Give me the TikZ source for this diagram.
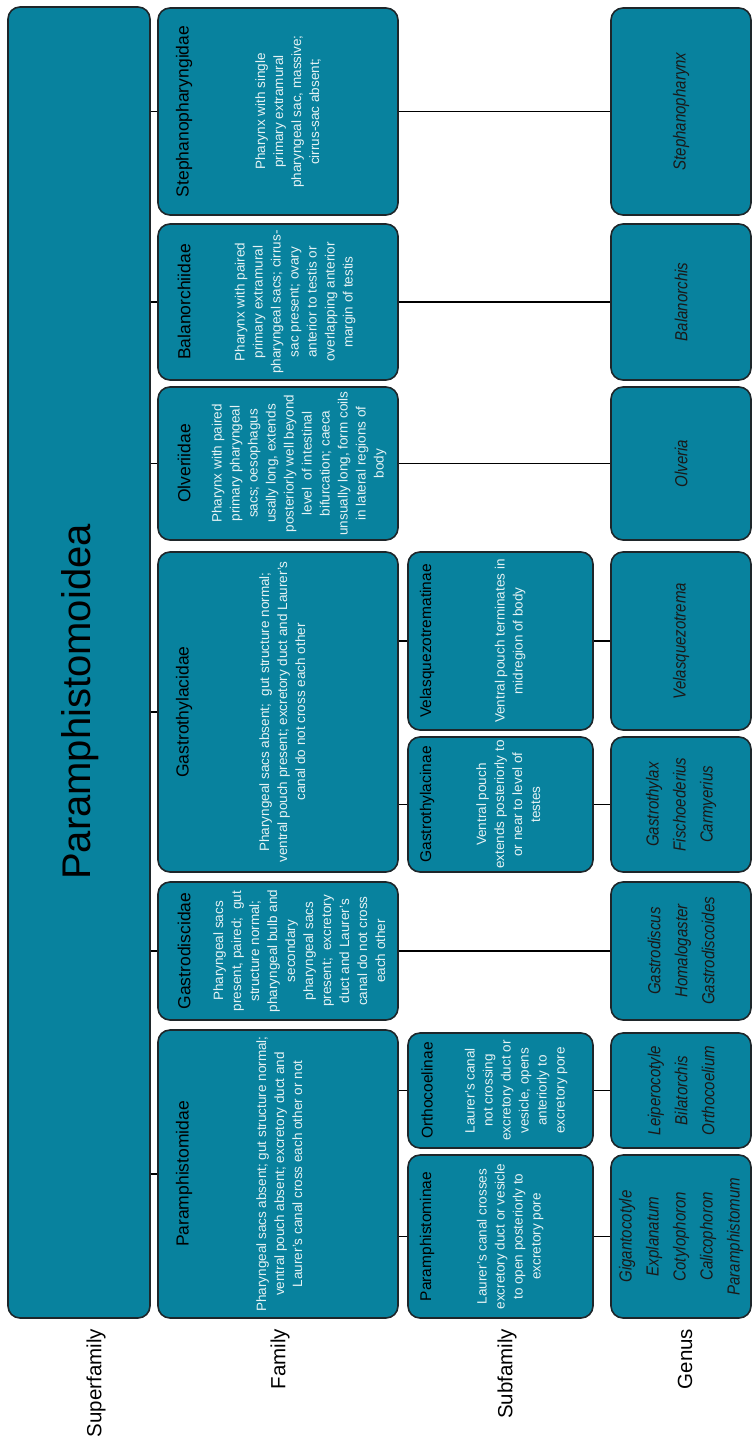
\documentclass[tikz,border=0pt]{standalone}
\usepackage{fontspec}
\setmainfont{Liberation Sans}
\newfontfamily\narrowsans[FakeStretch=0.86]{Liberation Sans}
\usetikzlibrary{positioning}
\definecolor{pteal}{RGB}{8,130,158}
\definecolor{pedge}{RGB}{30,38,42}

\begin{document}
\begin{tikzpicture}[x=1pt, y=-1pt, line width=1.8pt,
  taxon/.style={draw=pedge, fill=pteal, rounded corners=12pt, line width=1.6pt, inner sep=0pt},
  famcol/.style={taxon, minimum width=240pt},
  subcol/.style={taxon, minimum width=185pt},
  gencol/.style={taxon, minimum width=140pt},
  tname/.style={rotate=90, font=\fontsize{17.5}{21}\selectfont, text=black},
  sname/.style={rotate=90, font=\fontsize{15.5}{19}\selectfont, text=black},
  descr/.style={rotate=90, align=center, font=\fontsize{13.5}{18}\selectfont, text=white!90!pteal},
  genera/.style={rotate=90, align=center, font=\narrowsans\itshape\fontsize{17.5}{27}\selectfont, text=black!90},
  level/.style={rotate=90, anchor=east, inner sep=0pt, font=\fontsize{20.5}{24}\selectfont}]
\useasboundingbox (0,0) rectangle (753,1440);

\node[taxon, minimum width=142pt, minimum height=1311pt] (sfam) at (79,662.5) {};
\node[rotate=90, font=\fontsize{40}{46}\selectfont] (sfamN) at (80,702) {Paramphistomoidea};

\node[famcol, minimum height=207pt] (steph) at (278,111.5) {};
\node[famcol, minimum height=156pt] (balan) at (278,302) {};
\node[famcol, minimum height=153pt] (olver) at (278,463.5) {};
\node[famcol, minimum height=320pt] (gthyl) at (278,712) {};
\node[famcol, minimum height=138pt] (gdisc) at (278,951) {};
\node[famcol, minimum height=288pt] (param) at (278,1174) {};

\node[subcol, minimum height=178pt] (velas) at (500.5,641) {};
\node[subcol, minimum height=135pt] (gthysub) at (500.5,804.5) {};
\node[subcol, minimum height=115pt] (ortho) at (500.5,1090.5) {};
\node[subcol, minimum height=163pt] (paramsub) at (500.5,1236.5) {};

\node[gencol, minimum height=207pt] (stephG) at (681,111.5) {};
\node[gencol, minimum height=156pt] (balanG) at (681,302) {};
\node[gencol, minimum height=153pt] (olverG) at (681,463.5) {};
\node[gencol, minimum height=178pt] (velasG) at (681,641) {};
\node[gencol, minimum height=135pt] (gthyG) at (681,804.5) {};
\node[gencol, minimum height=138pt] (gdiscG) at (681,951) {};
\node[gencol, minimum height=115pt] (orthoG) at (681,1090.5) {};
\node[gencol, minimum height=163pt] (paramG) at (681,1236.5) {};

\draw (sfam.east |- steph.west) -- (steph.west);
\draw (sfam.east |- balan.west) -- (balan.west);
\draw (sfam.east |- olver.west) -- (olver.west);
\draw (sfam.east |- gthyl.west) -- (gthyl.west);
\draw (sfam.east |- gdisc.west) -- (gdisc.west);
\draw (sfam.east |- param.west) -- (param.west);

\draw (steph) -- (stephG);
\draw (balan) -- (balanG);
\draw (olver) -- (olverG);
\draw (gdisc) -- (gdiscG);
\draw (velas.west -| gthyl.east) -- (velas.west);
\draw (gthysub.west -| gthyl.east) -- (gthysub.west);
\draw (ortho.west -| param.east) -- (ortho.west);
\draw (paramsub.west -| param.east) -- (paramsub.west);
\draw (velas) -- (velasG);
\draw (gthysub) -- (gthyG);
\draw (ortho) -- (orthoG);
\draw (paramsub) -- (paramG);

\node[tname] (stephN) at ([xshift=27pt]steph.west) {Stephanopharyngidae};
\node[descr] (stephD) at ([xshift=131pt]steph.west) {Pharynx with single\\ primary extramural\\ pharyngeal sac, massive;\\ cirrus-sac absent;};
\node[tname] (balanN) at ([xshift=27pt]balan.west) {Balanorchiidae};
\node[descr] (balanD) at ([xshift=138pt]balan.west) {Pharynx with paired\\ primary extramural\\ pharyngeal sacs; cirrus-\\ sac present; ovary\\ anterior to testis or\\ overlapping anterior\\ margin of testis};
\node[tname] (olverN) at ([xshift=27pt]olver.west) {Olveriidae};
\node[descr] (olverD) at ([xshift=142pt]olver.west) {Pharynx with paired\\ primary pharyngeal\\ sacs; oesophagus\\ usally long, extends\\ posteriorly well beyond\\ level~ of intestinal\\ bifurcation; caeca\\ unsually long, form coils\\ in lateral regions of\\ body};
\node[tname] (gthylN) at ([xshift=27pt]gthyl.west) {Gastrothylacidae};
\node[descr] (gthylD) at ([xshift=125pt]gthyl.west) {Pharyngeal sacs absent;~ gut structure normal;\\ ventral pouch present; excretory duct and Laurer's\\ canal do not cross each other};
\node[tname] (gdiscN) at ([xshift=27pt]gdisc.west) {Gastrodiscidae};
\node[descr] (gdiscD) at ([xshift=142pt]gdisc.west) {Pharyngeal sacs\\ present, paired;~ gut\\ structure normal;\\ pharyngeal bulb and\\ secondary\\ pharyngeal sacs\\ present;~ excretory\\ duct and Laurer's\\ canal do not cross\\ each other};
\node[tname] (paramN) at ([xshift=27pt]param.west) {Paramphistomidae};
\node[descr] (paramD) at ([xshift=122pt]param.west) {Pharyngeal sacs absent; gut structure normal;\\ ventral pouch absent; excretory duct and\\ Laurer's canal cross each other or not};

\node[sname] (velasN) at ([xshift=20pt]velas.west) {Velasquezotrematinae};
\node[descr] (velasD) at ([xshift=103pt]velas.west) {Ventral pouch terminates in\\ midregion of body};
\node[sname] (gthysubN) at ([xshift=20pt]gthysub.west) {Gastrothylacinae};
\node[descr] (gthysubD) at ([xshift=101pt]gthysub.west) {Ventral pouch\\ extends posteriorly to\\ or near to level of\\ testes};
\node[sname] (orthoN) at ([xshift=20pt]ortho.west) {Orthocoelinae};
\node[descr] (orthoD) at ([xshift=109pt]ortho.west) {Laurer's canal\\ not crossing\\ excretory duct or\\ vesicle, opens\\ anteriorly to\\ excretory pore};
\node[sname] (paramsubN) at ([xshift=20pt]paramsub.west) {Paramphistominae};
\node[descr] (paramsubD) at ([xshift=103pt]paramsub.west) {Laurer's canal crosses\\ excretory duct or vesicle\\ to open posteriorly to\\ excretory pore};

\node[genera] (stephT) at (stephG) {Stephanopharynx};
\node[genera] (balanT) at (balanG) {Balanorchis};
\node[genera] (olverT) at (olverG) {Olveria};
\node[genera] (velasT) at (velasG) {Velasquezotrema};
\node[genera] (gthyT) at (gthyG) {Gastrothylax\\ Fischoederius\\ Carmyerius};
\node[genera] (gdiscT) at (gdiscG) {Gastrodiscus\\ Homalogaster\\ Gastrodiscoides};
\node[genera] (orthoT) at (orthoG) {Leiperocotyle\\ Bilatorchis\\ Orthocoelium};
\node[genera] (paramT) at (paramG) {Gigantocotyle\\ Explanatum\\ Cotylophoron\\ Calicophoron\\ Paramphistomum};

\node[level] (lsup) at (96,1328) {Superfamily};
\node[level] (lfam) at (280,1328) {Family};
\node[level] (lsub) at (507,1328) {Subfamily};
\node[level] (lgen) at (685,1328) {Genus};
\end{tikzpicture}
\end{document}
